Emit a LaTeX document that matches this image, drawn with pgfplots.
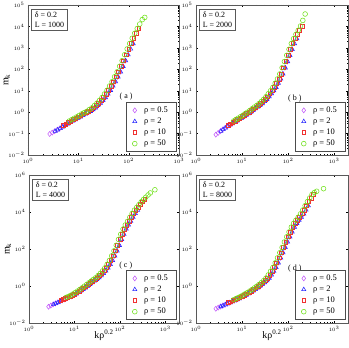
\documentclass[border=0pt]{standalone}
\usepackage{fontspec}
\setmainfont{Liberation Serif}
\usepackage{pgfplots}
\pgfplotsset{compat=1.18}
\usepackage{pgfplotstable}

\definecolor{cP}{RGB}{195,90,250}
\definecolor{cB}{RGB}{40,40,255}
\definecolor{cR}{RGB}{240,50,50}
\definecolor{cG}{RGB}{110,225,25}

% x columns: k rho^0.2 for each series; y columns: m_k in panels a-d
\pgfplotstableread{
xr     xp     xb     xg     ya      yb      yc      yd
2.512  2.692  2.754  2.344  0.0955  0.0891  0.0759  0.0589
2.818  3.020  3.090  2.630  0.111   0.107   0.0871  0.0676
3.162  3.388  3.467  2.951  0.129   0.129   0.100   0.0776
3.548  3.802  3.890  3.311  0.150   0.155   0.1135  0.0871
3.981  4.266  4.365  3.715  0.174   0.182   0.129   0.0977
4.467  4.786  4.898  4.169  0.204   0.214   0.146   0.110
5.012  5.370  5.495  4.677  0.240   0.251   0.166   0.126
5.623  6.026  6.166  5.248  0.282   0.288   0.188   0.141
6.310  6.761  6.918  5.888  0.331   0.339   0.214   0.162
7.079  7.586  7.762  6.607  0.385   0.389   0.243   0.182
7.943  8.511  8.710  7.413  0.447   0.457   0.275   0.209
8.913  9.550  9.772  8.318  0.519   0.525   0.316   0.240
10.00  10.72  10.96  9.333  0.603   0.617   0.372   0.275
11.22  12.02  12.30  10.47  0.708   0.724   0.447   0.324
12.59  13.49  13.80  11.75  0.832   0.851   0.537   0.380
14.13  15.14  15.49  13.18  0.955   1.000   0.653   0.447
15.85  16.98  17.38  14.79  1.096   1.202   0.794   0.537
17.78  19.05  19.50  16.60  1.318   1.445   0.977   0.646
19.95  21.38  21.88  18.62  1.585   1.738   1.202   0.794
22.39  23.99  24.55  20.89  2.042   2.042   1.496   0.977
25.12  26.92  27.54  23.44  2.630   2.512   1.862   1.202
28.18  30.20  30.90  26.30  3.548   3.162   2.291   1.514
31.62  33.88  34.67  29.51  4.786   3.981   2.818   1.950
35.48  38.02  38.90  33.11  7.079   5.248   3.631   2.692
39.81  42.66  43.65  37.15  10.47   7.244   4.786   3.981
44.67  47.86  48.98  41.69  16.60   10.00   6.607   6.310
50.12  53.70  54.95  46.77  26.30   14.45   9.550   10.00
56.23  60.26  61.66  52.48  44.67   22.39   14.79   17.78
63.10  67.61  69.18  58.88  75.86   35.48   23.99   33.11
70.79  75.86  77.62  66.07  138.0   60.26   42.66   63.10
79.43  85.11  87.10  74.13  251.2   117.5   79.43   120.2
89.13  95.50  97.72  83.18  478.6   229.1   158.5   239.9
100.0  107.2  109.6  93.33  891.3   446.7   331.1   457.1
112.2  120.2  123.0  104.7  1585    851.1   631.0   831.8
125.9  134.9  138.0  117.5  2818    1585    1202    1514
141.3  151.4  154.9  131.8  4786    2692    1995    2455
158.5  169.8  173.8  147.9  7943    4266    3162    3631
177.8  190.5  195.0  166.0  12880   6607    5248    5248
199.5  213.8  218.8  186.2  20890   10470   8318    7943
223.9  239.9  245.5  208.9  26300   19050   12590   12880
251.2  269.2  275.4  234.4  nan     38020   17780   21880
281.8  302.0  309.0  263.0  nan     56230   25120   36310
316.2  338.8  346.7  295.1  nan     nan     35480   57540
354.8  380.2  389.0  331.1  nan     nan     47860   89130
398.1  426.6  436.5  371.5  nan     nan     63100   112200
446.7  478.6  489.8  416.9  nan     nan     83180   131800
501.2  537.0  549.5  467.7  nan     nan     107200  147900
562.3  602.6  616.6  524.8  nan     nan     131800  166000
631.0  676.1  691.8  588.8  nan     nan     158500  182000
}\mk

\pgfplotsset{
  panel/.style={
    scale only axis, anchor=south west, xmin=1,
    axis line style={black!65, line width=0.9pt},
    tick align=inside, tick style={black, line width=0.3pt},
    major tick length=2.4bp, minor tick length=1.3bp,
    tick label style={font=\fontsize{5}{5}\selectfont},
    xtick={1,10,100,1000},
    label style={font=\fontsize{10}{12}\selectfont},
    legend style={at={(rel axis cs:0.985,0.02)}, anchor=south east,
      draw=black!70, line width=0.6pt, font=\fontsize{8.5}{10}\selectfont,
      row sep=0pt, inner xsep=6.5pt, inner ysep=2.5pt,
      /tikz/every odd column/.append style={column sep=5pt}},
    legend cell align=left,
  },
  sP/.style={only marks, mark=diamond, mark size=2.5pt, color=cP, mark options={line width=0.55pt}},
  sB/.style={only marks, mark=triangle, mark size=2.4pt, color=cB, mark options={line width=0.55pt}},
  sR/.style={only marks, mark=square, mark size=1.9pt, color=cR, mark options={line width=0.55pt}},
  sG/.style={only marks, mark=o, mark size=2.4pt, color=cG, mark options={line width=0.55pt}},
}

\newcommand{\infobox}[1]{\node[draw=black!65, line width=0.6pt, fill=white, align=left,
  anchor=north west, font=\fontsize{8}{10}\selectfont, inner xsep=3.5pt, inner ysep=2.5pt]
  at (rel axis cs:0.02,0.973) {δ = 0.2\\L = #1};}

\begin{document}
\begin{tikzpicture}
\useasboundingbox (0,0) rectangle (349bp,348bp);

% (a)
\begin{loglogaxis}[panel, at={(28bp,193bp)}, width=151bp, height=150bp,
    xmax=1000, ymin=1e-2, ymax=1e5,
    ylabel={m\textsubscript{k}},
    ylabel style={at={(axis description cs:-0.14,0.5)}, anchor=center}]
\addplot[sP, skip coords between index={31}{49}] table[x=xp, y=ya] {\mk};
\addplot[sB, skip coords between index={0}{2}, skip coords between index={34}{49}] table[x=xb, y=ya] {\mk};
\addplot[sR, skip coords between index={0}{6}, skip coords between index={37}{49}] table[x=xr, y=ya] {\mk};
\addplot[sG, skip coords between index={0}{9}, skip coords between index={40}{49}] table[x=xg, y=ya] {\mk};
\legend{ρ = 0.5, ρ = 2, ρ = 10, ρ = 50}
\infobox{1000}
\node[font=\fontsize{8}{9}\selectfont] at (rel axis cs:0.65,0.39) {( a )};
\end{loglogaxis}

% (b)
\begin{loglogaxis}[panel, at={(196bp,193bp)}, width=152bp, height=150bp,
    xmax=2000, ymin=1e-2, ymax=1e5]
\addplot[sP, skip coords between index={34}{49}] table[x=xp, y=yb] {\mk};
\addplot[sB, skip coords between index={0}{2}, skip coords between index={36}{49}] table[x=xb, y=yb] {\mk};
\addplot[sR, skip coords between index={0}{6}, skip coords between index={39}{49}] table[x=xr, y=yb] {\mk};
\addplot[sG, skip coords between index={0}{9}, skip coords between index={41}{49}] table[x=xg, y=yb] {\mk};
\legend{ρ = 0.5, ρ = 2, ρ = 10, ρ = 50}
\infobox{2000}
\node[font=\fontsize{8}{9}\selectfont] at (rel axis cs:0.65,0.375) {( b )};
\end{loglogaxis}

% (c)
\begin{loglogaxis}[panel, at={(29bp,25bp)}, width=150bp, height=148bp,
    xmax=2000, ymin=1e-2, ymax=1e6, ytick={1e-2,1,1e2,1e4,1e6},
    ylabel={m\textsubscript{k}}, xlabel={kρ\textsuperscript{0.2}},
    ylabel style={at={(axis description cs:-0.14,0.5)}, anchor=center},
    xlabel style={at={(axis description cs:0.5,-0.025)}, anchor=north}]
\addplot[sP, skip coords between index={38}{49}] table[x=xp, y=yc] {\mk};
\addplot[sB, skip coords between index={0}{2}, skip coords between index={40}{49}] table[x=xb, y=yc] {\mk};
\addplot[sR, skip coords between index={0}{6}, skip coords between index={44}{49}] table[x=xr, y=yc] {\mk};
\addplot[sG, skip coords between index={0}{9}, skip coords between index={47}{48}] table[x=xg, y=yc] {\mk};
\legend{ρ = 0.5, ρ = 2, ρ = 10, ρ = 50}
\infobox{4000}
\node[font=\fontsize{8}{9}\selectfont] at (rel axis cs:0.645,0.385) {( c )};
\end{loglogaxis}

% (d)
\begin{loglogaxis}[panel, at={(196bp,25bp)}, width=152bp, height=148bp,
    xmax=2000, ymin=1e-2, ymax=1e6, ytick={1e-2,1,1e2,1e4,1e6},
    xlabel={kρ\textsuperscript{0.2}},
    xlabel style={at={(axis description cs:0.5,-0.025)}, anchor=north}]
\addplot[sP, skip coords between index={39}{49}] table[x=xp, y=yd] {\mk};
\addplot[sB, skip coords between index={0}{2}, skip coords between index={41}{49}] table[x=xb, y=yd] {\mk};
\addplot[sR, skip coords between index={0}{6}, skip coords between index={44}{49}] table[x=xr, y=yd] {\mk};
\addplot[sG, skip coords between index={0}{9}, skip coords between index={46}{48}] table[x=xg, y=yd] {\mk};
\legend{ρ = 0.5, ρ = 2, ρ = 10, ρ = 50}
\infobox{8000}
\node[font=\fontsize{8}{9}\selectfont] at (rel axis cs:0.65,0.37) {( d )};
\end{loglogaxis}
\end{tikzpicture}
\end{document}
